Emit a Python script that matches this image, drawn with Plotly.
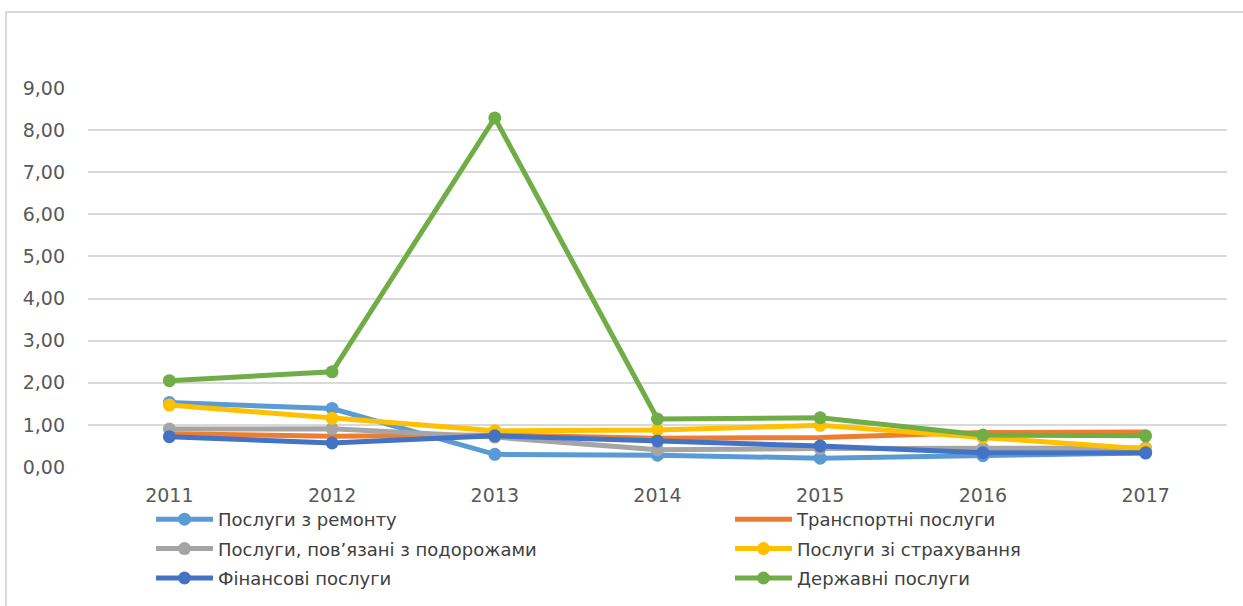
import plotly.graph_objects as go

years = ["2011", "2012", "2013", "2014", "2015", "2016", "2017"]
repair = [1.53, 1.39, 0.30, 0.28, 0.21, 0.27, 0.33]
transport = [0.79, 0.73, 0.76, 0.68, 0.70, 0.82, 0.83]
travel = [0.90, 0.91, 0.71, 0.41, 0.44, 0.44, 0.45]
insurance = [1.47, 1.16, 0.86, 0.88, 0.99, 0.70, 0.43]
finance = [0.72, 0.57, 0.74, 0.62, 0.50, 0.34, 0.34]
government = [2.05, 2.26, 8.29, 1.14, 1.17, 0.76, 0.74]
y_ticks = [0, 1, 2, 3, 4, 5, 6, 7, 8, 9]

series = [
    ("Послуги з ремонту", repair, "#5B9BD5", True, "legend"),
    ("Транспортні послуги", transport, "#ED7D31", False, "legend2"),
    ("Послуги, пов’язані з подорожами", travel, "#A5A5A5", True, "legend"),
    ("Послуги зі страхування", insurance, "#FFC000", True, "legend2"),
    ("Фінансові послуги", finance, "#4472C4", True, "legend"),
    ("Державні послуги", government, "#70AD47", True, "legend2"),
]

fig = go.Figure()
for i, (name, vals, col, mk, lg) in enumerate(series):
    fig.add_trace(go.Scatter(
        x=years, y=vals, name=name,
        mode="lines+markers" if mk else "lines",
        line=dict(color=col, width=5),
        marker=dict(color=col, size=13),
        legend=lg, legendgroup=f"g{i}",
    ))

W, H = 1243, 606
L, R, T, B = 88, 16, 88, 75
PLOT_BOTTOM = 467
pw = W - L - R
ph = H - T - B

def px_x(p):
    return (p - L) / pw

def px_y(p):
    return (H - B - p) / ph

legend_font = dict(family="DejaVu Sans, sans-serif", size=18, color="#404040")
tick_font = dict(family="DejaVu Sans, sans-serif", size=19, color="#595959")

legend_common = dict(
    xanchor="left", yanchor="top",
    orientation="v", font=legend_font, itemwidth=57,
    tracegroupgap=3, bgcolor="rgba(0,0,0,0)",
)

fig.update_layout(
    width=W, height=H,
    margin=dict(l=L, r=R, t=T, b=B, autoexpand=False),
    paper_bgcolor="white", plot_bgcolor="white",
    separators=", ",
    showlegend=True,
    xaxis=dict(
        type="category", range=[-0.5, 6.5], showgrid=False, zeroline=False,
        showline=False, ticks="", ticklabelstandoff=15, automargin=False,
        tickfont=tick_font,
    ),
    yaxis=dict(
        range=[0, 9], tickvals=y_ticks, tickformat=".2f",
        domain=[px_y(PLOT_BOTTOM), 1], automargin=False,
        showgrid=True, gridcolor="#D9D9D9", gridwidth=2,
        zeroline=False, showline=False, ticks="", ticklabelstandoff=22,
        tickfont=tick_font,
    ),
    legend=dict(x=px_x(151), y=px_y(501), **legend_common),
    legend2=dict(x=px_x(730), y=px_y(501), **legend_common),
    shapes=[dict(
        type="rect", xref="paper", yref="paper",
        x0=px_x(6), x1=px_x(1260), y0=px_y(620), y1=px_y(12),
        line=dict(color="#D9D9D9", width=2), layer="below",
    )],
)

fig.write_html(
    "out.html",
    config={"displayModeBar": False},
    post_script="document.body.style.margin='0';document.body.style.overflow='hidden';",
)
